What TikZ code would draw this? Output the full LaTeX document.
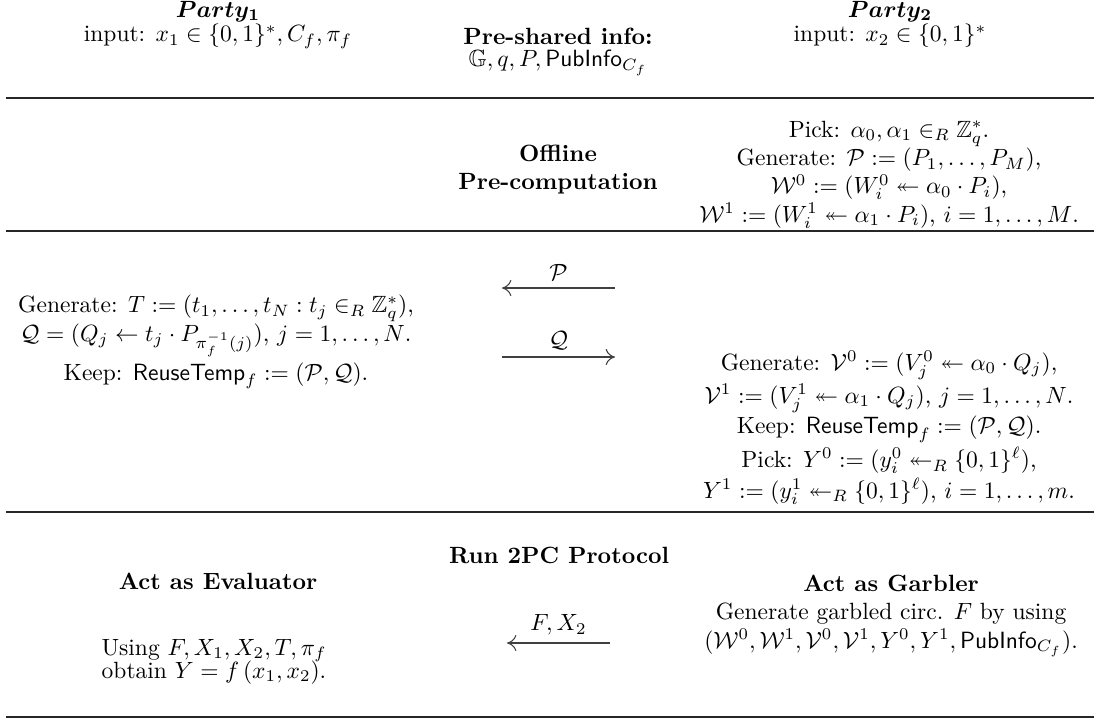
\documentclass[tikz,border=0pt]{standalone}
\usepackage{amsmath,amssymb,bm}
\usetikzlibrary{arrows.meta}
\newcommand{\pubinfo}{\mathsf{PubInfo}_{C_f}}
\newcommand{\reusetmp}{\mathsf{ReuseTemp}_f}
\tikzset{
  cell/.style={align=center, inner sep=1pt, anchor=base},
  head/.style={cell, font=\bfseries},
  hrule/.style={line width=0.5pt, black!85},
  msg/.style={-{To[length=1.4mm,width=2.4mm]}, line width=0.45pt, black!75},
  lbl/.style={above, inner sep=3pt, text=black}
}

\begin{document}
\begin{tikzpicture}
  \useasboundingbox (0,0) rectangle (16.36,-10.78);
  % header (nodes sit on the baseline of their last line)
  \node[cell] (party1) at (3.26,-0.628) {$\bm{Party_1}$\\[-1.4pt]input: $x_1 \in \{0,1\}^*, C_f, \pi_f$};
  \node[cell] (shared) at (8.345,-1.002) {\textbf{Pre-shared info:}\\[-2.6pt]$\mathbb{G}, q, P, \pubinfo$};
  \node[cell] (party2) at (13.31,-0.628) {$\bm{Party_2}$\\[-1.4pt]input: $x_2 \in \{0,1\}^*$};

  % offline phase
  \node[head] (offline) at (8.345,-2.841) {Offline\\Pre-computation};
  \node[cell] (wgen) at (13.295,-3.32) {Pick: $\alpha_0, \alpha_1 \in_R \mathbb{Z}_q^*$.\\
    Generate: $\mathcal{P} := (P_1, \ldots, P_M)$,\\
    $\mathcal{W}^0 := (W_i^0 \twoheadleftarrow \alpha_0 \cdot P_i)$,\\
    $\mathcal{W}^1 := (W_i^1 \twoheadleftarrow \alpha_1 \cdot P_i)$, $i = 1, \ldots, M$.};

  % exchange of P and Q
  \node[cell] (tgen) at (3.23,-5.683) {Generate: $T := (t_1, \ldots, t_N : t_j \in_R \mathbb{Z}_q^*)$,\\
    $\mathcal{Q} = (Q_j \leftarrow t_j \cdot P_{\pi_f^{-1}(j)})$, $j = 1, \ldots, N$.\\[1.5pt]
    Keep: $\reusetmp := (\mathcal{P}, \mathcal{Q})$.};
  \node[cell] (vgen) at (13.295,-7.448) {Generate: $\mathcal{V}^0 := (V_j^0 \twoheadleftarrow \alpha_0 \cdot Q_j)$,\\[1pt]
    $\mathcal{V}^1 := (V_j^1 \twoheadleftarrow \alpha_1 \cdot Q_j)$, $j = 1, \ldots, N$.\\[1pt]
    Keep: $\reusetmp := (\mathcal{P}, \mathcal{Q})$.\\[1pt]
    Pick: $Y^0 := (y_i^0 \twoheadleftarrow_R \{0,1\}^\ell)$,\\[1pt]
    $Y^1 := (y_i^1 \twoheadleftarrow_R \{0,1\}^\ell)$, $i = 1, \ldots, m$.};
  \coordinate (pR) at (9.197,-4.307);
  \coordinate (pL) at (7.507,-4.307);
  \coordinate (qL) at (7.507,-5.339);
  \coordinate (qR) at (9.197,-5.339);

  % 2PC phase
  \node[head] (run) at (8.36,-8.42) {Run 2PC Protocol};
  \node[head] (eval) at (3.26,-8.823) {Act as Evaluator};
  \node[cell] (garb) at (13.325,-9.691) {\textbf{Act as Garbler}\\
    Generate garbled circ. $F$ by using\\
    $(\mathcal{W}^0, \mathcal{W}^1, \mathcal{V}^0, \mathcal{V}^1, Y^0, Y^1, \pubinfo)$.};
  \node[cell] (using) at (3.2,-10.14) {Using $F, X_1, X_2, T, \pi_f$\\[-2.2pt]obtain $Y = f\left(x_1, x_2\right)$.};
  \coordinate (fR) at (9.123,-9.616);
  \coordinate (fL) at (7.582,-9.616);

  \draw[msg] (pR) -- node[lbl] {$\mathcal{P}$} (pL);
  \draw[msg] (qL) -- node[lbl] {$\mathcal{Q}$} (qR);
  \draw[msg] (fR) -- node[lbl] {$F, X_2$} (fL);

  % table rules
  \foreach \y in {1.466,3.455,7.657,10.723}
    \draw[hrule] (0.09,-\y) -- (16.36,-\y);
\end{tikzpicture}
\end{document}
